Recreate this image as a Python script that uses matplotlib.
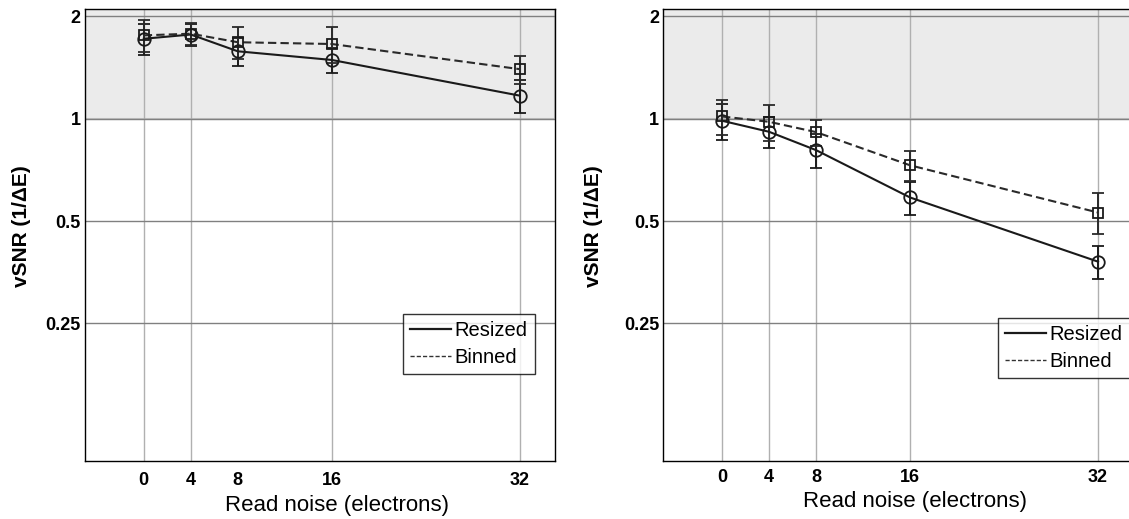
import numpy as np
import matplotlib
matplotlib.use("Agg")
import matplotlib.pyplot as plt
from matplotlib.ticker import FixedLocator, FixedFormatter, NullLocator
from matplotlib.lines import Line2D

plt.rcParams['font.family'] = ['Liberation Sans', 'DejaVu Sans']

# read noise levels (electrons)
read_noise = [0, 4, 8, 16, 32]
tick_labels = ['0', '4', '8', '16', '32']
y_ticks = [0.25, 0.5, 1, 2]
y_tick_labels = ['0.25', '0.5', '1', '2']

# left panel
left_resized = [1.72, 1.77, 1.58, 1.49, 1.17]
left_resized_err = [0.18, 0.13, 0.15, 0.13, 0.13]
left_binned = [1.76, 1.78, 1.68, 1.66, 1.40]
left_binned_err = [0.19, 0.13, 0.18, 0.20, 0.13]
left_grid_x = [0, 4, 16, 32]

# right panel
right_resized = [0.987, 0.916, 0.809, 0.587, 0.380]
right_resized_err = [0.12, 0.095, 0.094, 0.066, 0.042]
right_binned = [1.016, 0.98, 0.914, 0.730, 0.530]
right_binned_err = [0.12, 0.12, 0.08, 0.074, 0.073]
right_grid_x = [0, 4, 8, 16, 32]

fig = plt.figure(figsize=(11.29, 5.19), dpi=100)
ax1 = fig.add_axes([0.0753, 0.1118, 0.4163, 0.8703])
ax2 = fig.add_axes([0.5875, 0.1118, 0.4163, 0.8703])

panels = [
    # ax, data..., grid x, legend anchor, legend loc, xtick pad, xlabel y, ylabel x
    (ax1, left_resized, left_resized_err, left_binned, left_binned_err, left_grid_x,
     (0.957, 0.193), 'lower right', 8, -0.076, -0.115),
    (ax2, right_resized, right_resized_err, right_binned, right_binned_err, right_grid_x,
     (0.713, 0.184), 'lower left', 6, -0.066, -0.128),
]

for ax, rs, rs_err, bn, bn_err, gx, anchor, loc, xpad, xl_y, yl_x in panels:
    ax.set_yscale('log', base=2)
    ax.set_xlim(-5, 35)
    ax.set_ylim(0.0985, 2.1)

    # shaded region above 1
    ax.axhspan(1, 2.1, facecolor='#ebebeb', edgecolor='#c4c4c4', lw=1.5, zorder=0.2)

    for g in gx:
        ax.axvline(g, color='#b0b0b0', lw=1, zorder=0.5)
    for t in y_ticks:
        ax.axhline(t, color='#808080', lw=1, zorder=0.5)

    ax.errorbar(read_noise, rs, yerr=rs_err, color='#1a1a1a', lw=1.5,
                marker='o', ms=9, mfc='none', mec='#1a1a1a', mew=1.3,
                capsize=4, capthick=1.4, elinewidth=1.4, label='Resized', zorder=3)
    ax.errorbar(read_noise, bn, yerr=bn_err, color='#2a2a2a', lw=1.5, ls=(0, (4, 2)),
                marker='s', ms=7, mfc='none', mec='#1a1a1a', mew=1.3,
                capsize=4, capthick=1.4, elinewidth=1.4, label='Binned', zorder=3)

    ax.xaxis.set_major_locator(FixedLocator(read_noise))
    ax.xaxis.set_major_formatter(FixedFormatter(tick_labels))
    ax.yaxis.set_major_locator(FixedLocator(y_ticks))
    ax.yaxis.set_major_formatter(FixedFormatter(y_tick_labels))
    ax.yaxis.set_minor_locator(NullLocator())
    ax.tick_params(axis='both', length=0, labelsize=13)
    ax.tick_params(axis='x', pad=xpad)
    ax.tick_params(axis='y', pad=3)
    for lab in ax.get_xticklabels() + ax.get_yticklabels():
        lab.set_fontweight('bold')

    for sp in ax.spines.values():
        sp.set_color('black')
        sp.set_linewidth(1)

    ax.set_xlabel('Read noise (electrons)', fontsize=16)
    ax.set_ylabel('vSNR (1/ΔE)', fontsize=15, fontweight='bold')
    ax.xaxis.set_label_coords(0.536, xl_y)
    ax.yaxis.set_label_coords(yl_x, 0.52)

    handles = [Line2D([], [], color='#1a1a1a', lw=1.6),
               Line2D([], [], color='#333333', lw=1, ls=(0, (3, 1.5)))]
    leg = ax.legend(handles, ['Resized', 'Binned'], loc=loc, bbox_to_anchor=anchor,
                    fontsize=14.5, frameon=True, fancybox=False, edgecolor='black',
                    handlelength=2.0, handletextpad=0.2, borderpad=0.35,
                    labelspacing=0.4, borderaxespad=0)
    leg.get_frame().set_linewidth(1)
    leg.set_zorder(5)

fig.savefig('out.png', dpi=100)
